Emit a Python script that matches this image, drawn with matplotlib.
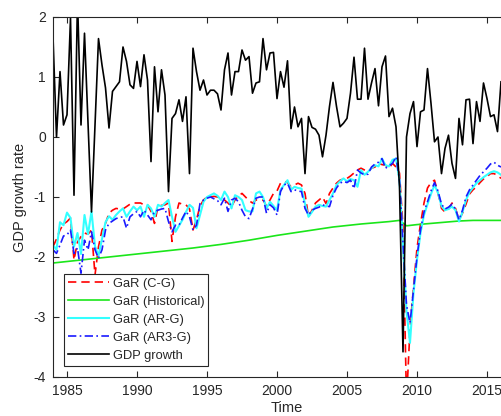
import numpy as np
import matplotlib
matplotlib.use("Agg")
import matplotlib.pyplot as plt

plt.rcParams['font.family'] = ['Liberation Sans', 'DejaVu Sans']
plt.rcParams['axes.unicode_minus'] = False

# Quarterly time axis 1984Q1 .. 2016Q1
start_year = 1984
n_quarters = 129

gdp_growth = [
    1.67, 0.00, 1.09, 0.20,
    0.37, 1.98, -0.97, 2.30,
    0.20, 1.73, 0.25, -1.25,
    0.20, 1.64, 1.20, 0.82,
    0.15, 0.76, 0.84, 0.92,
    1.50, 1.26, 0.87, 0.81,
    1.26, 0.84, 1.37, 0.95,
    -0.41, 1.17, 0.42, 1.12,
    0.70, -0.91, 0.31, 0.39,
    0.62, 0.26, 0.67, -0.61,
    1.48, 1.09, 0.78, 0.95,
    0.70, 0.78, 0.78, 0.72,
    0.45, 1.12, 1.40, 0.70,
    1.09, 1.09, 1.45, 1.28,
    1.34, 0.73, 0.90, 0.92,
    1.64, 1.12, 1.40, 1.41,
    0.64, 1.09, 0.83, 1.27,
    0.14, 0.50, 0.17, 0.31,
    -0.61, 0.34, 0.16, 0.13,
    0.03, -0.33, 0.03, 0.51,
    0.91, 0.51, 0.17, 0.23,
    0.31, 0.73, 1.33, 0.63,
    0.63, 1.48, 0.63, 0.90,
    1.14, 0.52, 1.17, 1.35,
    0.34, 0.48, 0.17, -0.83,
    -3.58, 0.00, 0.39, 0.59,
    -0.16, 0.42, 0.45, 1.14,
    0.56, -0.08, 0.00, -0.61,
    -0.19, 0.03, -0.44, -0.69,
    0.31, -0.13, 0.62, 0.63,
    -0.11, 0.59, 0.26, 0.90,
    0.64, 0.34, 0.37, 0.09,
    0.92,
]

gar_cg = [
    -1.83, -1.70, -1.55, -1.45,
    -1.41, -1.35, -2.05, -1.75,
    -1.66, -1.60, -1.62, -1.55,
    -2.30, -1.83, -1.55, -1.44,
    -1.27, -1.22, -1.19, -1.20,
    -1.20, -1.16, -1.12, -1.10,
    -1.10, -1.10, -1.13, -1.13,
    -1.24, -1.44, -1.16, -1.14,
    -1.13, -1.10, -1.74, -1.33,
    -1.10, -1.12, -1.13, -1.20,
    -1.55, -1.38, -1.15, -1.05,
    -1.00, -1.00, -0.99, -1.00,
    -1.02, -1.05, -1.10, -1.16,
    -1.05, -0.98, -0.94, -1.00,
    -1.06, -1.10, -1.05, -1.05,
    -1.05, -1.15, -1.05, -0.94,
    -0.90, -0.77, -0.74, -0.76,
    -0.83, -0.80, -0.77, -0.80,
    -0.94, -1.33, -1.22, -1.10,
    -1.05, -1.00, -1.11, -0.94,
    -0.85, -0.77, -0.72, -0.70,
    -0.69, -0.65, -0.60, -0.55,
    -0.52, -0.55, -0.58, -0.52,
    -0.50, -0.44, -0.46, -0.47,
    -0.52, -0.44, -0.50, -0.60,
    -1.50, -4.40, -3.20, -2.50,
    -1.85, -1.45, -1.10, -0.85,
    -0.76, -0.72, -0.94, -1.19,
    -1.25, -1.20, -1.10, -1.19,
    -1.38, -1.27, -1.12, -0.95,
    -0.88, -0.83, -0.76, -0.70,
    -0.66, -0.61, -0.61, -0.64,
    -0.69,
]

gar_arg = [
    -1.80, -1.88, -1.42, -1.47,
    -1.26, -1.35, -1.83, -1.60,
    -1.95, -1.30, -1.62, -1.24,
    -1.82, -1.98, -1.70, -1.42,
    -1.32, -1.38, -1.30, -1.24,
    -1.19, -1.33, -1.24, -1.16,
    -1.22, -1.16, -1.33, -1.13,
    -1.19, -1.33, -1.13, -1.16,
    -1.10, -1.05, -1.33, -1.58,
    -1.48, -1.38, -1.25, -1.13,
    -1.18, -1.52, -1.30, -1.08,
    -1.00, -0.97, -0.94, -0.98,
    -1.05, -0.91, -1.00, -1.19,
    -0.97, -1.00, -1.05, -1.22,
    -1.24, -1.24, -0.94, -0.91,
    -1.00, -1.19, -1.08, -1.15,
    -1.22, -0.88, -0.80, -0.72,
    -0.88, -0.83, -0.85, -0.86,
    -1.11, -1.33, -1.25, -1.16,
    -1.13, -1.15, -1.16, -1.05,
    -0.94, -0.80, -0.74, -0.69,
    -0.74, -0.70, -0.72, -0.83,
    -0.55, -0.63, -0.58, -0.52,
    -0.47, -0.49, -0.36, -0.47,
    -0.49, -0.38, -0.36, -0.72,
    -1.80, -2.90, -3.43, -2.60,
    -2.05, -1.60, -1.30, -1.12,
    -0.95, -0.80, -0.93, -1.15,
    -1.22, -1.20, -1.16, -1.22,
    -1.41, -1.25, -1.05, -0.92,
    -0.84, -0.77, -0.72, -0.67,
    -0.63, -0.59, -0.57, -0.59,
    -0.63,
]

gar_ar3g = [
    -1.88, -1.94, -1.80, -1.65,
    -1.63, -1.55, -1.94, -1.85,
    -2.27, -1.72, -1.88, -1.58,
    -1.88, -2.02, -1.88, -1.55,
    -1.44, -1.40, -1.36, -1.34,
    -1.33, -1.52, -1.33, -1.28,
    -1.24, -1.33, -1.22, -1.30,
    -1.38, -1.24, -1.22, -1.20,
    -1.19, -1.41, -1.58, -1.47,
    -1.47, -1.35, -1.24, -1.33,
    -1.55, -1.47, -1.11, -1.05,
    -1.02, -1.00, -1.03, -1.06,
    -1.13, -1.02, -1.24, -1.05,
    -1.02, -1.08, -1.22, -1.33,
    -1.36, -1.20, -1.02, -1.00,
    -1.00, -1.27, -1.13, -1.18,
    -1.30, -0.91, -0.80, -0.77,
    -0.91, -0.88, -0.90, -0.91,
    -1.19, -1.30, -1.22, -1.19,
    -1.17, -1.13, -1.15, -1.16,
    -0.97, -0.85, -0.77, -0.74,
    -0.76, -0.72, -0.86, -0.55,
    -0.60, -0.63, -0.62, -0.50,
    -0.45, -0.42, -0.36, -0.52,
    -0.48, -0.44, -0.33, -0.72,
    -1.75, -2.80, -3.10, -2.55,
    -2.00, -1.55, -1.25, -1.08,
    -0.90, -0.76, -0.90, -1.12,
    -1.20, -1.17, -1.12, -1.20,
    -1.38, -1.22, -1.00, -0.88,
    -0.80, -0.72, -0.64, -0.58,
    -0.52, -0.45, -0.42, -0.47,
    -0.50,
]

# Historical GaR (smooth), read at selected dates
hist_years = [1984, 1986, 1988, 1990, 1992, 1994, 1996, 1998, 2000, 2002,
              2004, 2006, 2008, 2008.75, 2009.25, 2010, 2011, 2012, 2013,
              2014, 2016]
gar_hist = [-2.10, -2.05, -2.00, -1.95, -1.90, -1.85, -1.79, -1.72, -1.64,
            -1.57, -1.50, -1.45, -1.41, -1.39, -1.48, -1.46, -1.44, -1.42,
            -1.40, -1.39, -1.39]

legend_labels = ['GaR (C-G)', 'GaR (Historical)', 'GaR (AR-G)', 'GaR (AR3-G)', 'GDP growth']
xticks = [1985, 1990, 1995, 2000, 2005, 2010, 2015]
yticks = [-4, -3, -2, -1, 0, 1, 2]

t = start_year + 0.25 * np.arange(n_quarters)

W, H = 501, 416
fig = plt.figure(figsize=(W / 100, H / 100), dpi=100)
ax_left, ax_bottom = 53 / W, (H - 377) / H
ax_w, ax_h = 462 / W, 360 / H
ax = fig.add_axes([ax_left, ax_bottom, ax_w, ax_h])

lw = 1.2
ax.plot(t, gar_cg, color=(1, 0, 0), lw=lw, linestyle=(0, (5, 3)), label=legend_labels[0])
ax.plot(hist_years, gar_hist, color=(0.1, 0.9, 0.1), lw=lw, label=legend_labels[1])
ax.plot(t, gar_arg, color=(0.2, 1, 1), lw=1.5, label=legend_labels[2])
ax.plot(t, gar_ar3g, color=(0.1, 0.1, 1), lw=lw, linestyle=(0, (5, 2, 1, 2)), label=legend_labels[3])
ax.plot(t, gdp_growth, color='black', lw=lw, label=legend_labels[4])

ax.set_xlim(1984, 2017)
ax.set_ylim(-4, 2)
ax.set_xticks(xticks)
ax.set_yticks(yticks)

axis_color = '#262626'
for side in ['left', 'bottom', 'top', 'right']:
    ax.spines[side].set_color(axis_color)
    ax.spines[side].set_linewidth(0.8)
ax.tick_params(direction='in', length=4, width=0.8, colors=axis_color,
               labelsize=10, top=True, right=False, pad=5)

ax.set_ylabel('GDP growth rate', fontsize=10.5, color=axis_color)
ax.yaxis.set_label_coords((27 - 53) / 462, 0.5)
ax.set_xlabel('Time', fontsize=10.5, color=axis_color, va='bottom')
ax.xaxis.set_label_coords((287 - 53) / 462, -(415 - 377) / 360)

leg = ax.legend(loc='lower left', bbox_to_anchor=((64 - 53) / 462, (377 - 366) / 360),
                borderaxespad=0, fontsize=9.3, handlelength=3.2, handletextpad=0.25,
                labelspacing=0.46, borderpad=0.32, fancybox=False, framealpha=1,
                edgecolor=axis_color)
leg.get_frame().set_linewidth(0.8)
for txt in leg.get_texts():
    txt.set_color(axis_color)

fig.savefig('out.png', dpi=100)
